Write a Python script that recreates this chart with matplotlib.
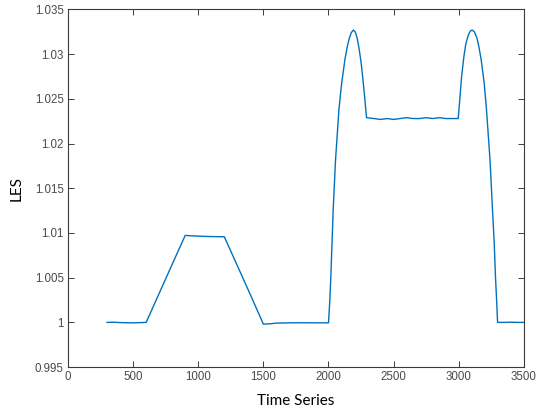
import matplotlib
matplotlib.use('Agg')
import matplotlib.pyplot as plt

# values
time_x = [300, 350, 400, 450, 500, 550, 600,
          700, 800, 900, 950, 1000, 1050, 1100, 1150, 1200,
          1300, 1400, 1500, 1550, 1600, 1700, 1800, 1900, 2000,
          2010, 2018, 2036, 2054, 2080, 2100, 2126, 2145, 2160, 2175, 2190,
          2205, 2220, 2235, 2250, 2262, 2275, 2285, 2292,
          2350, 2400, 2450, 2500, 2550, 2600, 2650, 2700, 2750, 2800, 2850, 2900, 2950, 2996,
          3010, 3022, 3040, 3055, 3075, 3090, 3103,
          3120, 3140, 3155, 3172, 3195, 3213, 3240, 3259, 3272, 3282, 3292, 3298,
          3350, 3400, 3450, 3500]
les_y = [1.0000, 1.00002, 0.99998, 0.99996, 0.99995, 0.99997, 1.0000,
         1.00325, 1.0065, 1.00973, 1.00968, 1.00965, 1.00962, 1.0096, 1.00959, 1.00958,
         1.00635, 1.0031, 0.99981, 0.99984, 0.99992, 0.99995, 0.99996, 0.99995, 0.99995,
         1.0024, 1.0051, 1.0126, 1.01817, 1.0238, 1.0266, 1.0294, 1.0309, 1.0318, 1.0324, 1.0327,
         1.0325, 1.0318, 1.0306, 1.0291, 1.0275, 1.0256, 1.0240, 1.0229,
         1.0228, 1.0227, 1.0228, 1.0227, 1.0228, 1.0229, 1.0228, 1.0228, 1.0229, 1.0228, 1.0229, 1.0228, 1.0228, 1.0228,
         1.0253, 1.0275, 1.0298, 1.0312, 1.0322, 1.0326, 1.0327,
         1.0325, 1.0318, 1.0308, 1.0294, 1.0268, 1.0238, 1.0182, 1.0126, 1.0090, 1.0051, 1.0021, 1.0000,
         1.0000, 1.00002, 1.0000, 1.0000]

x_ticks = [0, 500, 1000, 1500, 2000, 2500, 3000, 3500]
y_ticks = [0.995, 1.0, 1.005, 1.01, 1.015, 1.02, 1.025, 1.03, 1.035]
y_labels = ['0.995', '1', '1.005', '1.01', '1.015', '1.02', '1.025', '1.03', '1.035']

fig = plt.figure(figsize=(5.44, 4.12), dpi=100)
ax = fig.add_axes([0.125, 0.109, 0.838, 0.868])
ax.plot(time_x, les_y, color='#0072BD', lw=1.0)

ax.set_xlim(0, 3500)
ax.set_ylim(0.995, 1.035)
ax.set_xticks(x_ticks)
ax.set_xticklabels([str(t) for t in x_ticks])
ax.set_yticks(y_ticks)
ax.set_yticklabels(y_labels)

for s in ax.spines.values():
    s.set_color('#3a3a3a')
    s.set_linewidth(0.8)
ax.tick_params(direction='in', top=True, right=True, length=4, width=0.7,
               color='#3a3a3a', labelcolor='#4a4a4a', labelsize=8.3, pad=3)
for lab in ax.get_xticklabels() + ax.get_yticklabels():
    lab.set_family('Liberation Sans')

ax.set_xlabel('Time Series', family='Lato', fontsize=11, color='black', labelpad=8)
ax.set_ylabel('LES', family='Lato', fontsize=11, color='black', labelpad=8)

plt.savefig('out.png', dpi=100)
